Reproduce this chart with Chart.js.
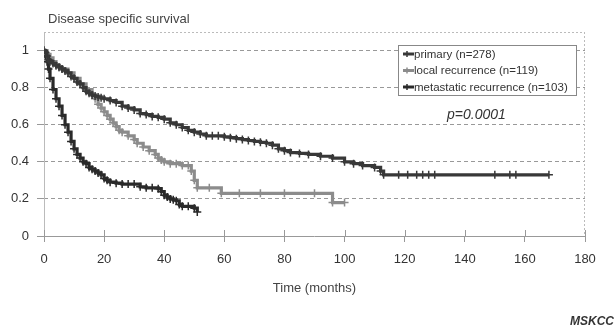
<!DOCTYPE html>
<html><head><meta charset="utf-8">
<script src="https://cdn.jsdelivr.net/npm/chart.js@4/dist/chart.umd.min.js"></script>
<style>html,body{margin:0;padding:0;background:#fff}#wrap{width:615px;height:330px;position:relative}</style>
</head><body><div id="wrap"><canvas id="c" width="615" height="330"></canvas></div>
<script>
const xTicks = [0,20,40,60,80,100,120,140,160,180];
const yTicks = [0,0.2,0.4,0.6,0.8,1];
const seriesLabels = ["primary (n=278)","local recurrence (n=119)","metastatic recurrence (n=103)"];
const primaryT = [0,0.5,1,1.5,2,3,4,5,6,7,8,9,10,11,12,13,14,15,16,17,18,19,20,22,24,26,28,30,32,34,36,38,40,42,44,46,48,50,52,54,56,58,60,62,64,66,68,70,72,74,76,78,80,82,85,88,92,96,100,103,106,110,112,113,118,121,124,126,128,130,150,155,157,168];
const primaryS = [1,0.99,0.97,0.95,0.94,0.93,0.92,0.91,0.9,0.89,0.88,0.86,0.85,0.83,0.82,0.8,0.78,0.77,0.76,0.755,0.75,0.745,0.74,0.73,0.72,0.70,0.69,0.68,0.66,0.655,0.645,0.64,0.63,0.61,0.60,0.585,0.57,0.56,0.55,0.54,0.54,0.54,0.535,0.53,0.525,0.52,0.515,0.51,0.505,0.50,0.49,0.47,0.46,0.45,0.445,0.44,0.43,0.42,0.40,0.39,0.38,0.37,0.35,0.33,0.33,0.33,0.33,0.33,0.33,0.33,0.33,0.33,0.33,0.33];
const localT = [0,1,2,3,4,5,6,8,10,12,14,16,17,18,19,20,21,22,23,24,25,26,28,30,31,33,35,37,38,39,40,42,44,46,48,49,50,51,55,59,65,72,80,90,96,100];
const localS = [1,0.98,0.96,0.94,0.92,0.91,0.9,0.88,0.85,0.82,0.79,0.76,0.74,0.71,0.69,0.67,0.65,0.63,0.61,0.59,0.57,0.56,0.54,0.52,0.50,0.48,0.46,0.44,0.42,0.41,0.40,0.39,0.39,0.38,0.38,0.35,0.30,0.26,0.26,0.23,0.23,0.23,0.23,0.23,0.18,0.18];
const metaT = [0,0.5,1,1.5,2,3,4,5,6,7,8,9,10,11,12,13,14,15,16,17,18,19,20,21,22,24,26,28,30,32,34,36,38,39,40,41,42,43,44,45,46,48,50,51];
const metaS = [1,0.97,0.94,0.9,0.85,0.79,0.74,0.70,0.65,0.60,0.56,0.51,0.47,0.44,0.42,0.40,0.39,0.37,0.36,0.35,0.34,0.33,0.31,0.30,0.29,0.285,0.28,0.28,0.28,0.265,0.26,0.26,0.255,0.24,0.22,0.21,0.20,0.195,0.19,0.17,0.16,0.16,0.15,0.13];
const colors = ['#383838','#8c8c8c','#2a2a2a'];

function pts(T,S){return T.map((t,i)=>({x:t,y:S[i]}));}
function ds(label,T,S,col){return {label,data:pts(T,S),borderColor:col,backgroundColor:col,borderWidth:3.2,stepped:true,pointStyle:'cross',pointRadius:4,pointBorderWidth:1.5,pointBorderColor:col,fill:false};}

const FONT = '"Liberation Sans", Arial, sans-serif';
const deco = {
  id:'deco',
  beforeDatasetsDraw(chart){
    const {ctx,chartArea:a,scales:{x,y}} = chart;
    ctx.save();
    ctx.strokeStyle='#bbb';ctx.lineWidth=1;ctx.setLineDash([2,2]);
    ctx.beginPath();ctx.moveTo(a.left,a.top+0.5);ctx.lineTo(a.right,a.top+0.5);
    ctx.moveTo(a.right-0.5,a.top);ctx.lineTo(a.right-0.5,a.bottom);ctx.stroke();
    ctx.setLineDash([]);
    ctx.strokeStyle='#bbb';ctx.beginPath();
    ctx.moveTo(a.left+0.5,a.top);ctx.lineTo(a.left+0.5,a.bottom);ctx.stroke();
    ctx.strokeStyle='#999';
    ctx.beginPath();
    xTicks.forEach(v=>{const px=Math.round(x.getPixelForValue(v))+0.5;ctx.moveTo(px,a.bottom-6);ctx.lineTo(px,a.bottom);});
    ctx.moveTo(a.left,a.bottom+0.5);ctx.lineTo(a.right,a.bottom+0.5);
    ctx.stroke();
    ctx.restore();
  },
  afterDraw(chart){
    const {ctx,chartArea:a,scales:{x,y}} = chart;
    ctx.save();
    ctx.fillStyle='#444';ctx.textBaseline='middle';ctx.textAlign='left';
    ctx.font='13px '+FONT;
    ctx.fillText('Disease specific survival',48,19);
    ctx.textAlign='center';
    ctx.fillText('Time (months)',(a.left+a.right)/2,288);
    ctx.font='italic 14px '+FONT;ctx.textAlign='left';ctx.fillStyle='#333';
    ctx.fillText('p=0.0001',447,115);
    ctx.font='bold italic 12px '+FONT;
    ctx.fillText('MSKCC',570,322);
    // legend
    const bx=398,by=45,bw=178,bh=50;
    ctx.fillStyle='#fff';ctx.fillRect(bx,by,bw,bh);
    ctx.strokeStyle='#888';ctx.lineWidth=1;ctx.strokeRect(bx+0.5,by+0.5,bw,bh);
    const ys=[54,70.5,87];
    chart.data.datasets.forEach((d,i)=>{
      ctx.strokeStyle=d.borderColor;ctx.lineWidth=3;
      ctx.beginPath();ctx.moveTo(403,ys[i]);ctx.lineTo(414,ys[i]);ctx.stroke();
      ctx.lineWidth=1.5;ctx.beginPath();ctx.moveTo(407,ys[i]-3);ctx.lineTo(407,ys[i]+3);ctx.stroke();
      ctx.fillStyle='#333';ctx.font='11.5px '+FONT;ctx.textAlign='left';
      ctx.fillText(d.label,414,ys[i]+0.5);
    });
    ctx.restore();
  }
};

new Chart(document.getElementById('c'),{
  type:'line',
  data:{datasets:[ds(seriesLabels[0],primaryT,primaryS,colors[0]),ds(seriesLabels[1],localT,localS,colors[1]),ds(seriesLabels[2],metaT,metaS,colors[2])]},
  options:{
    responsive:false,animation:false,
    layout:{padding:{top:32,right:30,left:0,bottom:0}},
    plugins:{legend:{display:false},tooltip:{enabled:false}},
    scales:{
      x:{type:'linear',min:0,max:180,
        afterBuildTicks(s){s.ticks=xTicks.map(v=>({value:v}));},
        afterFit(s){s.height=94;},
        grid:{display:true,drawOnChartArea:false,drawTicks:true,tickLength:6,color:'#999'},
        border:{display:false},
        ticks:{padding:10,color:'#333',font:{family:FONT,size:13},maxRotation:0}},
      y:{type:'linear',min:0,max:1.1,
        afterBuildTicks(s){s.ticks=yTicks.map(v=>({value:v}));},
        afterFit(s){s.width=44;},
        grid:{drawOnChartArea:true,drawTicks:true,tickLength:7,color:(c)=>c.tick&&c.tick.value===0?'rgba(0,0,0,0)':'#999',tickColor:'#999',lineWidth:1,tickBorderDash:[]},
        border:{display:false,dash:[4,3]},
        ticks:{padding:8,color:'#333',font:{family:FONT,size:13},callback:(v)=>String(v)}}
    },
    elements:{line:{tension:0}}
  },
  plugins:[deco]
});
</script></body></html>
